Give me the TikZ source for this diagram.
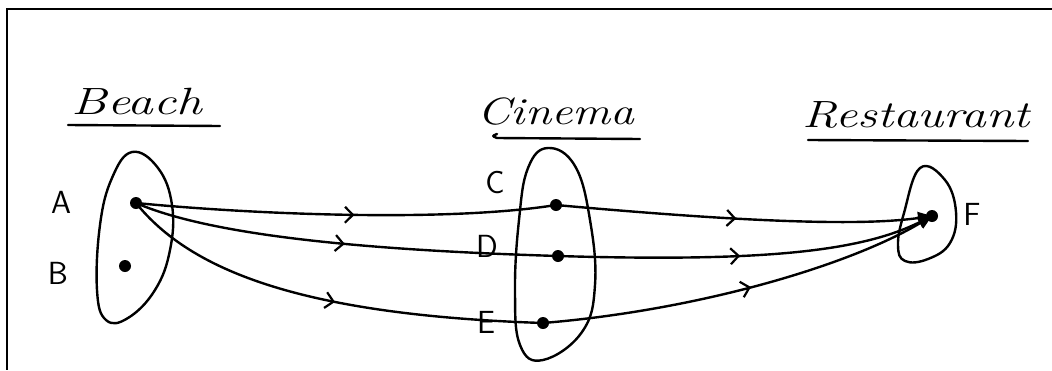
\documentclass[tikz,border=0pt]{standalone}
\usetikzlibrary{arrows.meta,decorations.markings}
\begin{document}
\begin{tikzpicture}[x=1pt,y=-1pt,
  hand/.style={line width=2.4pt,line cap=round,line join=round},
  title/.style={font=\fontsize{38}{44}\selectfont\itshape,inner sep=0pt},
  lbl/.style={font=\fontsize{32}{38}\selectfont\sffamily,inner sep=0pt},
  dot/.style={circle,fill=black,inner sep=0pt,minimum size=12pt},
  midarrow/.style={hand,postaction={decorate},decoration={markings,
     mark=at position #1 with {\arrow{Straight Barb[length=8pt,width=16pt,line width=2.2pt]}}}},
  endtip/.style={-{Triangle[length=14pt,width=12pt]}}
]
\useasboundingbox (0,0) rectangle (1052,370);
% frame
\draw[line width=1.2pt] (1052,9) -- (7,9) -- (7,370);

% titles
\node[title] (tb) at (137,102) {\scalebox{1.35}[1]{Beach}};
\node[title] (tc) at (556,112) {\scalebox{1.25}[1]{Cinema}};
\node[title] (tr) at (916,115) {\scalebox{1.3}[1]{Restaurant}};
\draw[hand] (68,125) -- (220,126);
\draw[hand] (497,134) .. controls (492,136) .. (497,138) -- (640,139);
\draw[hand] (808,140) -- (1028,141);

% sets
\draw[hand] plot[smooth cycle,tension=0.7] coordinates {(132,152) (158,168) (172,205) (170,250) (155,290) (128,318) (106,320) (97,290) (100,225) (112,178)};
\draw[hand] plot[smooth cycle,tension=0.7] coordinates {(548,148) (575,166) (590,220) (595,285) (582,332) (543,360) (520,345) (515,290) (519,220) (528,168)};
\draw[hand] plot[smooth cycle,tension=0.7] coordinates {(920,168) (945,180) (956,212) (950,243) (928,259) (905,261) (898,245) (904,213)};

% points
\node[dot] (A) at (136,203) {};
\node[dot] (B) at (125,266) {};
\node[dot] (C) at (556,205) {};
\node[dot] (D) at (558,256) {};
\node[dot] (E) at (543,323) {};
\node[dot] (F) at (932,216) {};

% labels
\node[lbl] (lA) at (61,202) {A};
\node[lbl] (lB) at (58,273) {B};
\node[lbl] (lC) at (495,183) {C};
\node[lbl] (lD) at (487,246) {D};
\node[lbl] (lE) at (486,322) {E};
\node[lbl] (lF) at (972,214) {F};

% connectors
\draw[midarrow=0.52] (A.center) .. controls (260,215) and (450,222) .. (C.center);
\draw[midarrow=0.50] (A.center) .. controls (210,235) and (360,250) .. (D.center);
\draw[midarrow=0.52] (A.center) .. controls (190,270) and (300,315) .. (E.center);
\draw[midarrow=0.48,endtip] (C.center) .. controls (700,218) and (850,228) .. (F.center);
\draw[midarrow=0.48,endtip] (D.center) .. controls (760,262) and (860,252) .. (F.center);
\draw[midarrow=0.52,endtip] (E.center) .. controls (700,310) and (850,265) .. (F.center);
\end{tikzpicture}
\end{document}
